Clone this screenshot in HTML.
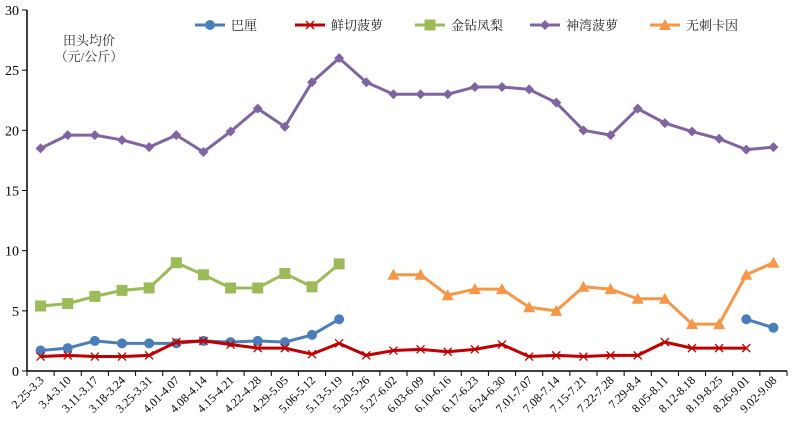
<!DOCTYPE html>
<html><head><meta charset="utf-8"><style>
body{margin:0;background:#fff;width:792px;height:435px;overflow:hidden}
svg{font-family:"Liberation Serif","Noto Serif CJK SC",serif}
</style></head><body>
<svg id="chart" width="792" height="435" xmlns="http://www.w3.org/2000/svg"></svg>
<script>
const categories=["2.25-3.3","3.4-3.10","3.11-3.17","3.18-3.24","3.25-3.31","4.01-4.07","4.08-4.14","4.15-4.21","4.22-4.28","4.29-5.05","5.06-5.12","5.13-5.19","5.20-5.26","5.27-6.02","6.03-6.09","6.10-6.16","6.17-6.23","6.24-6.30","7.01-7.07","7.08-7.14","7.15-7.21","7.22-7.28","7.29-8.4","8.05-8.11","8.12-8.18","8.19-8.25","8.26-9.01","9.02-9.08"];
const seriesBaxi=[1.7,1.9,2.5,2.3,2.3,2.3,2.5,2.4,2.5,2.4,3.0,4.3,null,null,null,null,null,null,null,null,null,null,null,null,null,null,4.3,3.6];
const seriesXianqie=[1.2,1.3,1.2,1.2,1.3,2.4,2.5,2.2,1.9,1.9,1.4,2.3,1.3,1.7,1.8,1.6,1.8,2.2,1.2,1.3,1.2,1.3,1.3,2.4,1.9,1.9,1.9,null];
const seriesJinzuan=[5.4,5.6,6.2,6.7,6.9,9.0,8.0,6.9,6.9,8.1,7.0,8.9,null,null,null,null,null,null,null,null,null,null,null,null,null,null,null,null];
const seriesShenwan=[18.5,19.6,19.6,19.2,18.6,19.6,18.2,19.9,21.8,20.3,24.0,26.0,24.0,23.0,23.0,23.0,23.6,23.6,23.4,22.3,20.0,19.6,21.8,20.6,19.9,19.3,18.4,18.6];
const seriesWuci=[null,null,null,null,null,null,null,null,null,null,null,null,null,8.0,8.0,6.3,6.8,6.8,5.3,5.0,7.0,6.8,6.0,6.0,3.9,3.9,8.0,9.0];
const yTicks=[0,5,10,15,20,25,30];
const NS="http://www.w3.org/2000/svg";
const svg=document.getElementById('chart');
const X0=27,X1=787,Y0=371,Y30=10;
const band=(X1-X0)/categories.length;
const xs=i=>X0+band*(i+0.5);
const ys=v=>Y0-(Y0-Y30)*v/30;
function mk(t,a,p){const e=document.createElementNS(NS,t);for(const k in a)e.setAttribute(k,a[k]);(p||svg).appendChild(e);return e;}
// axes
let ax=mk('line',{x1:X0,y1:Y30,x2:X0,y2:Y0,stroke:'#000','stroke-width':1.5});


let bx=mk('line',{x1:X0,y1:Y0,x2:X1,y2:Y0,stroke:'#000','stroke-width':1.5});


yTicks.forEach(v=>{
 mk('line',{x1:X0-5,y1:ys(v),x2:X0,y2:ys(v),stroke:'#000'});
 const t=mk('text',{x:X0-8,y:ys(v)+5,'text-anchor':'end','font-size':14});
 t.textContent=v;
 
 
});
for(let i=0;i<=categories.length;i++)mk('line',{x1:X0+band*i,y1:Y0,x2:X0+band*i,y2:Y0+5,stroke:'#000'});
categories.forEach((c,i)=>{
 const t=mk('text',{transform:`translate(${xs(i)+4},${Y0+10}) rotate(-45)`,'text-anchor':'end','font-size':12});
 t.textContent=c;
 
 
});
const yt=mk('text',{x:89,y:45,'text-anchor':'middle','font-size':13,fill:'#333'});
yt.textContent='田头均价';


const yt2=mk('text',{x:89,y:61,'text-anchor':'middle','font-size':13,fill:'#333'});
yt2.textContent='（元/公斤）';


function marker(type,x,y,c,g){
 if(type==='circle')mk('circle',{cx:x,cy:y,r:5,fill:c},g);
 else if(type==='square')mk('rect',{x:x-5.5,y:y-5.5,width:11,height:11,fill:c},g);
 else if(type==='diamond')mk('polygon',{points:`${x},${y-5} ${x+5},${y} ${x},${y+5} ${x-5},${y}`,fill:c},g);
 else if(type==='triangle')mk('polygon',{points:`${x},${y-6} ${x+6},${y+5} ${x-6},${y+5}`,fill:c},g);
 else if(type==='x'){mk('path',{d:`M${x-4} ${y-4}L${x+4} ${y+4}M${x+4} ${y-4}L${x-4} ${y+4}`,stroke:c,'stroke-width':1.3,fill:'none'},g);}
}
const series=[
 {name:'巴厘',data:seriesBaxi,c:'#4a7ebb',m:'circle',id:'baxi',lx:195},
 {name:'鲜切菠萝',data:seriesXianqie,c:'#c00000',m:'x',id:'xianqie',lx:295},
 {name:'金钻凤梨',data:seriesJinzuan,c:'#9bbb59',m:'square',id:'jinzuan',lx:415},
 {name:'神湾菠萝',data:seriesShenwan,c:'#8064a2',m:'diamond',id:'shenwan',lx:530},
 {name:'无刺卡因',data:seriesWuci,c:'#f79646',m:'triangle',id:'wuci',lx:650}
];
const order=[3,2,4,0,1];
order.forEach(k=>{const s=series[k];
 const g=mk('g',{});
 
 
 let d='',pen=false;
 s.data.forEach((v,i)=>{if(v==null){pen=false;return;}d+=(pen?'L':'M')+xs(i)+' '+ys(v);pen=true;});
 mk('path',{d:d,fill:'none',stroke:s.c,'stroke-width':3,'stroke-linejoin':'round'},g);
 s.data.forEach((v,i)=>{if(v!=null)marker(s.m,xs(i),ys(v),s.c,g);});
});
series.forEach(s=>{
 const g=mk('g',{});
 
 
 mk('line',{x1:s.lx,y1:25,x2:s.lx+30,y2:25,stroke:s.c,'stroke-width':3},g);
 marker(s.m,s.lx+15,25,s.c,g);
 const t=mk('text',{x:s.lx+36,y:30,'font-size':13,fill:'#222'},g);
 t.textContent=s.name;
});
</script>
</body></html>
